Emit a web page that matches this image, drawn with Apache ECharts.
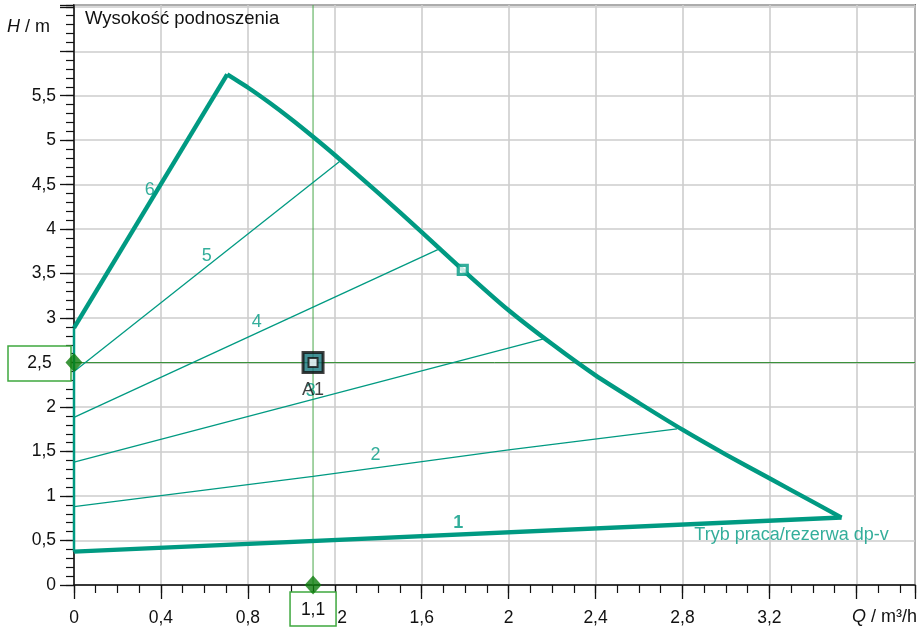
<!DOCTYPE html>
<html><head><meta charset="utf-8">
<script src="https://cdn.jsdelivr.net/npm/echarts@6/dist/echarts.min.js"></script>
<style>html,body{margin:0;padding:0;background:#fff}#c{width:918px;height:629px}</style>
</head><body><div id="c"></div>
<script>
// ---- data ----
const qTickLabels = ['0','0,4','0,8','1,2','1,6','2','2,4','2,8','3,2'];
const hTickLabels = ['0','0,5','1','1,5','2','2,5','3','3,5','4','4,5','5','5,5'];
const curveMin = [[0,0.375],[3.532,0.758]];
const curveLeft = [[0,0.375],[0,2.89]];
const curveRise = [[0,2.89],[0.705,5.74]];
const curveFall = [[0.705,5.74],[0.8,5.593],[0.9,5.421],[1.0,5.236],[1.1,5.039],[1.2,4.834],[1.4,4.408],[1.6,3.968],[1.8,3.518],[2.0,3.088],[2.2,2.708],[2.4,2.356],[2.6,2.046],[2.8,1.746],[3.0,1.466],[3.2,1.2],[3.4,0.934],[3.532,0.758]];
const dpv2 = [[0,0.88],[1.1,1.22],[2.0,1.52],[2.775,1.755]];
const dpv3 = [[0,1.38],[2.165,2.77]];
const dpv4 = [[0,1.885],[1.674,3.77]];
const dpv5 = [[0,2.40],[1.222,4.76]];
const ratedPoint = [[1.789,3.543]];
const dutyPoint = [1.1, 2.5];
const curveLabels = [[0.349,4.44,'6'],[0.611,3.70,'5'],[0.841,2.96,'4'],[1.089,2.18,'3'],[1.388,1.46,'2']];
const curveLabelsBold = [[1.768,0.70,'1']];
const modeLabel = [[3.302,0.562,'Tryb praca/rezerwa dp-v']];
const qMax = 3.87, hMax = 6.52;

// ---- styles ----
const TEAL = '#009a82';
const FONT = '"Liberation Sans", Arial, sans-serif';
const INK = '#111';

function idxOf(v, step, n){
  const k = v/step; const r = Math.round(k);
  if (Math.abs(k-r) > 1e-6 || r >= n) return -1; return r;
}

const chart = echarts.init(document.getElementById('c'), null, {renderer:'canvas'});
const majorAxisCommon = {
  type:'value', axisLine:{show:true, onZero:false, lineStyle:{color:INK, width:1.5}},
  axisTick:{show:true, length:14, lineStyle:{color:INK, width:1.3}},
  splitLine:{show:true, lineStyle:{color:'#cdcdcd', width:1.6}},
  axisLabel:{color:INK, fontSize:17.5, fontFamily:FONT, showMinLabel:true, showMaxLabel:true, hideOverlap:false}
};
const minorAxisCommon = {
  type:'value', axisLine:{show:false, onZero:false},
  axisTick:{show:true, length:8, lineStyle:{color:INK, width:1.2}},
  splitLine:{show:false}, axisLabel:{show:false}
};

const line = (data, w, color, extra) => Object.assign({type:'line', data, symbol:'none', silent:true,
  lineStyle:{width:w, color}, itemStyle:{color}, xAxisIndex:0, yAxisIndex:0}, extra||{});

chart.setOption({
  animation:false,
  backgroundColor:'#fff',
  grid:{left:74, right:2, top:5, bottom:44, show:true, borderColor:INK, borderWidth:1.5, backgroundColor:'#fff'},
  xAxis:[
    Object.assign({}, majorAxisCommon, {min:0, max:qMax, interval:0.4, position:'bottom',
      axisLabel:Object.assign({}, majorAxisCommon.axisLabel, {margin:24,
        formatter:v=>{const i=idxOf(v,0.4,qTickLabels.length); return i<0?'':qTickLabels[i];}})}),
    Object.assign({}, minorAxisCommon, {min:0, max:qMax, interval:0.1, position:'bottom'})
  ],
  yAxis:[
    Object.assign({}, majorAxisCommon, {min:0, max:hMax, interval:0.5, position:'left',
      axisLabel:Object.assign({}, majorAxisCommon.axisLabel, {margin:18,
        formatter:v=>{const i=idxOf(v,0.5,hTickLabels.length); return i<0?'':hTickLabels[i];}})}),
    Object.assign({}, minorAxisCommon, {min:0, max:hMax, interval:0.1, position:'left'})
  ],
  series:[
    line([[dutyPoint[0],0],[dutyPoint[0],hMax]], 1, '#4aa84a', {z:3}),
    line([[0,dutyPoint[1]],[qMax,dutyPoint[1]]], 1, '#2b8a2b', {z:3}),
    line(dpv2, 1.3, TEAL, {z:4}),
    line(dpv3, 1.3, TEAL, {z:4}),
    line(dpv4, 1.3, TEAL, {z:4}),
    line(dpv5, 1.3, TEAL, {z:4}),
    line(curveMin, 4.4, TEAL, {z:5}),
    line(curveLeft, 2.5, TEAL, {z:5}),
    line(curveRise, 4.4, TEAL, {z:5}),
    line(curveFall, 4.4, TEAL, {z:5, smooth:0.2}),
    {type:'scatter', data:ratedPoint, symbol:'rect', symbolSize:9, z:6, silent:true,
      itemStyle:{color:'#fff', borderColor:TEAL, borderWidth:3.2}},
    {type:'scatter', data:[[0,dutyPoint[1]],[dutyPoint[0],0]], symbol:'diamond', symbolSize:[17,19], z:60, clip:false, silent:true,
      itemStyle:{color:'#0c7c0c'}},
    {type:'scatter', data:curveLabels, symbolSize:0, z:7, silent:true,
      label:{show:true, position:'inside', formatter:p=>p.value[2], color:TEAL, fontSize:18, fontFamily:FONT}},
    {type:'scatter', data:curveLabelsBold, symbolSize:0, z:7, silent:true,
      label:{show:true, position:'inside', formatter:p=>p.value[2], color:TEAL, fontSize:18, fontWeight:'bold', fontFamily:FONT}},
    {type:'scatter', data:modeLabel, symbolSize:0, z:7, silent:true,
      label:{show:true, position:'inside', formatter:p=>p.value[2], color:TEAL, fontSize:18, fontFamily:FONT}},
    {type:'scatter', data:[dutyPoint], symbol:'rect', symbolSize:20, z:8, silent:true,
      itemStyle:{color:'#14767c', borderColor:INK, borderWidth:3},
      label:{show:true, position:'bottom', distance:7, formatter:'A1', color:INK, fontSize:18, fontFamily:FONT}},
    {type:'scatter', data:[dutyPoint], symbol:'rect', symbolSize:9, z:8, silent:true,
      itemStyle:{color:'#fff', borderColor:INK, borderWidth:2}}
  ]
});

const pH = chart.convertToPixel({xAxisIndex:0, yAxisIndex:0}, [0, dutyPoint[1]]);
const pQ = chart.convertToPixel({xAxisIndex:0, yAxisIndex:0}, [dutyPoint[0], 0]);
const fmt = v => String(v).replace('.', ',');
const BOX = '#3ea83e';
chart.setOption({
  graphic:[
    {type:'text', left:85, top:9, z:50, style:{text:'Wysokość podnoszenia', font:'18.5px '+FONT, fill:INK}},
    {type:'text', x:7, y:27, z:50, style:{text:'{i|H} / m', font:'18px '+FONT, fill:INK, verticalAlign:'middle',
      rich:{i:{fontStyle:'italic', fontSize:18, fontFamily:FONT}}}},
    {type:'text', x:917, y:617, z:50, style:{text:'{i|Q} / m³/h', font:'18px '+FONT, fill:INK, align:'right', verticalAlign:'middle',
      rich:{i:{fontStyle:'italic', fontSize:18, fontFamily:FONT}}}},
    {type:'rect', z:40, shape:{x:8, y:pH[1]-16.5, width:63, height:35}, style:{fill:'#fff', stroke:BOX, lineWidth:1.5}},
    {type:'text', z:41, x:39.5, y:pH[1]+1, style:{text:fmt(dutyPoint[1]), font:'17.5px '+FONT, fill:INK, align:'center', verticalAlign:'middle'}},
    {type:'rect', z:40, shape:{x:pQ[0]-23, y:pQ[1]+7, width:46, height:34}, style:{fill:'#fff', stroke:BOX, lineWidth:1.5}},
    {type:'text', z:41, x:pQ[0], y:pQ[1]+25, style:{text:fmt(dutyPoint[0]), font:'17.5px '+FONT, fill:INK, align:'center', verticalAlign:'middle'}}
  ]
});
</script></body></html>
